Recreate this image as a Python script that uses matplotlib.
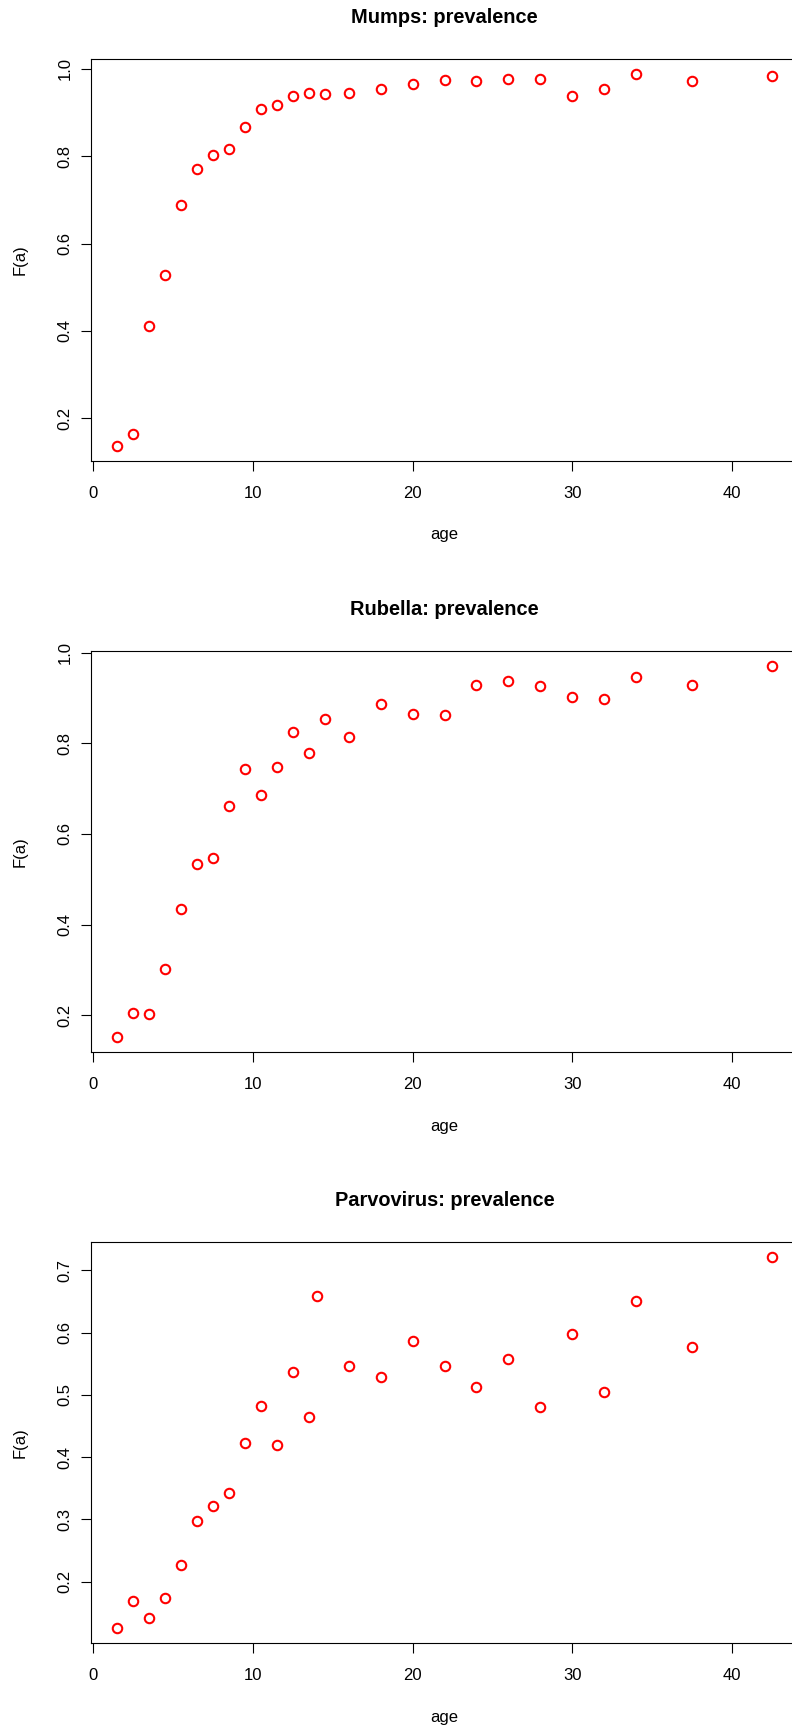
import numpy as np
import matplotlib
matplotlib.use('Agg')
import matplotlib.pyplot as plt

plt.rcParams['font.family'] = ['Liberation Sans', 'DejaVu Sans']

# age groups (parvovirus has the 14 year group instead of 14.5)
age = [1.5, 2.5, 3.5, 4.5, 5.5, 6.5, 7.5, 8.5, 9.5, 10.5, 11.5, 12.5, 13.5, 14.5,
       16, 18, 20, 22, 24, 26, 28, 30, 32, 34, 37.5, 42.5]
age_parvo = [1.5, 2.5, 3.5, 4.5, 5.5, 6.5, 7.5, 8.5, 9.5, 10.5, 11.5, 12.5, 13.5, 14,
             16, 18, 20, 22, 24, 26, 28, 30, 32, 34, 37.5, 42.5]

mumps = [0.137, 0.164, 0.412, 0.529, 0.688, 0.772, 0.802, 0.817, 0.867, 0.908,
         0.918, 0.937, 0.944, 0.942, 0.944, 0.953, 0.966, 0.975, 0.973, 0.977,
         0.978, 0.939, 0.955, 0.988, 0.972, 0.983]
rubella = [0.151, 0.205, 0.202, 0.302, 0.434, 0.533, 0.548, 0.662, 0.744, 0.687,
           0.749, 0.825, 0.778, 0.853, 0.815, 0.886, 0.865, 0.863, 0.930, 0.939,
           0.927, 0.902, 0.899, 0.947, 0.930, 0.972]
parvo = [0.125, 0.169, 0.141, 0.173, 0.226, 0.297, 0.322, 0.342, 0.423, 0.482,
         0.420, 0.536, 0.464, 0.659, 0.547, 0.528, 0.586, 0.546, 0.513, 0.557,
         0.480, 0.597, 0.504, 0.651, 0.577, 0.722]

titles = ['Mumps: prevalence', 'Rubella: prevalence', 'Parvovirus: prevalence']
xs = [age, age, age_parvo]
ys = [mumps, rubella, parvo]
yticks = [[0.2, 0.4, 0.6, 0.8, 1.0],
          [0.2, 0.4, 0.6, 0.8, 1.0],
          [0.2, 0.3, 0.4, 0.5, 0.6, 0.7]]
xticks = [0, 10, 20, 30, 40]

W, H = 792, 1727
fig = plt.figure(figsize=(W / 100, H / 100), dpi=100)

# panel boxes in pixels (right edge runs past the figure)
tops = [59.3, 650.7, 1241.7]
panel_h = 401.4
left, right = 91, 798
xmid = (left + right) / 2


def r_lim(v):
    # R style 4% padding around the data range
    lo, hi = min(v), max(v)
    d = (hi - lo) * 0.04
    return lo - d, hi + d


for i in range(3):
    top = tops[i]
    bottom = top + panel_h
    ax = fig.add_axes([left / W, 1 - bottom / H, (right - left) / W, panel_h / H])

    ax.plot(xs[i], ys[i], 'o', mfc='none', mec='red', ms=6.8, mew=1.5)

    ax.set_xlim(r_lim(xs[i]))
    ax.set_ylim(r_lim(ys[i]))
    ax.set_xticks(xticks)
    ax.set_yticks(yticks[i])
    ax.set_xticklabels([str(t) for t in xticks])
    ax.set_yticklabels(['%.1f' % t for t in yticks[i]])

    for s in ax.spines.values():
        s.set_linewidth(0.8)
        s.set_color('black')
    ax.tick_params(axis='both', direction='out', length=7.2, width=0.8,
                   labelsize=12, colors='black')
    ax.tick_params(axis='x', pad=11)
    ax.tick_params(axis='y', pad=6)
    for lab in ax.get_yticklabels():
        lab.set_rotation(90)
        lab.set_va('center')

    # title and axis labels placed in pixels
    fig.text(xmid / W, 1 - (top - 41.4) / H, titles[i], ha='center', va='center',
             fontsize=14.4, fontweight='bold')
    fig.text(xmid / W, 1 - (bottom + 74) / H, 'age', ha='center', va='center',
             fontsize=12)
    fig.text(20 / W, 1 - (top + panel_h / 2) / H, 'F(a)', ha='center', va='center',
             rotation=90, fontsize=12)

fig.savefig('out.png', dpi=100)
